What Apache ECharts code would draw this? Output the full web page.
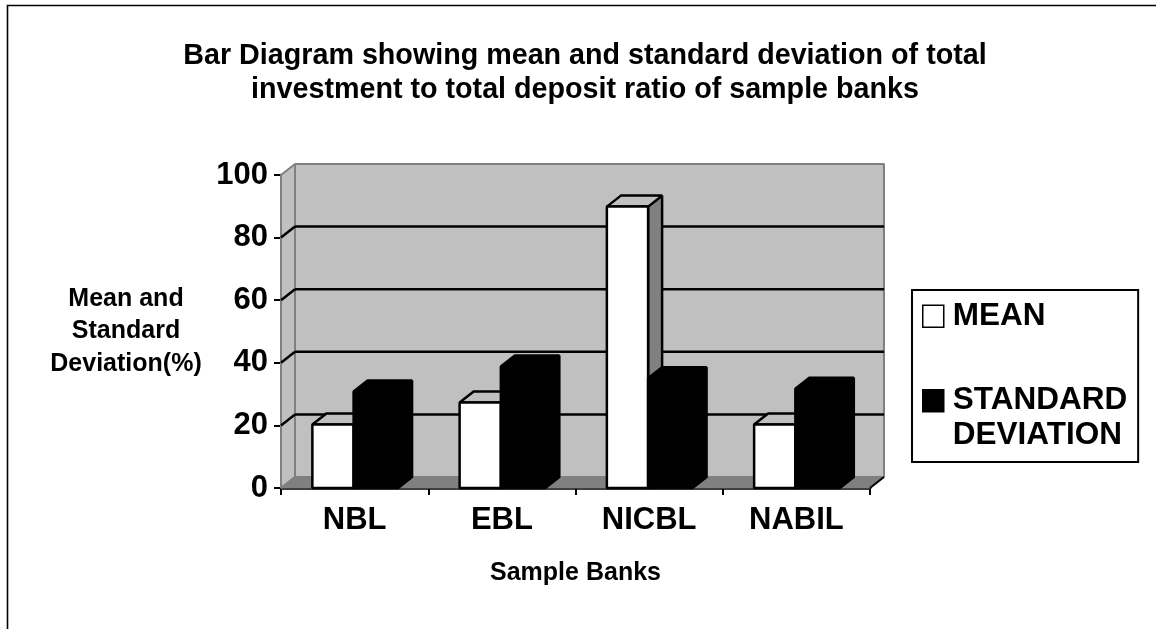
<!DOCTYPE html>
<html><head><meta charset="utf-8">
<style>html,body{margin:0;padding:0;background:#fff}#c{width:1156px;height:629px}</style>
<script src="https://cdn.jsdelivr.net/npm/echarts@6/dist/echarts.min.js"></script>
</head><body><div id="c"></div>
<script>
var categories = ['NBL','EBL','NICBL','NABIL'];
var meanValues = [20.3,27.3,89.9,20.3];
var sdValues = [30.8,38.8,35.1,31.7];
var yTicks = [0,20,40,60,80,100];
var F = '"Liberation Sans", Arial, sans-serif';
var DX = 14, DY = -11;

function poly(pts, fill, stroke, lw){
  return {type:'polygon', shape:{points:pts}, style:{fill:fill, stroke:stroke, lineWidth:lw, lineJoin:'bevel'}};
}
function line(x1,y1,x2,y2,stroke,lw){
  return {type:'line', shape:{x1:x1,y1:y1,x2:x2,y2:y2}, style:{stroke:stroke, lineWidth:lw}};
}
function renderWall(params, api){
  var c = params.coordSys, L=c.x, R=c.x+c.width, B=c.y+c.height, T=c.y;
  var kids = [
    poly([[L+DX,T+DY],[R+DX,T+DY],[R+DX,B+DY],[L+DX,B+DY]],'#c0c0c0','#808080',2),
    poly([[L,T],[L+DX,T+DY],[L+DX,B+DY],[L,B]],'#c0c0c0','#808080',2),
    poly([[L,B],[L+DX,B+DY],[R+DX,B+DY],[R,B]],'#808080','#808080',1)
  ];
  yTicks.forEach(function(v){
    var y = api.coord([0,v])[1];
    if(v>0 && v<100){
      kids.push(line(L,y,L+DX,y+DY,'#000',2.5));
      kids.push(line(L+DX,y+DY,R+DX,y+DY,'#000',2.5));
    }
  });
  kids.push(line(R,B,R+DX,B+DY,'#000',2));
  kids.push(line(L,B,L+DX,B+DY,'#808080',2));
  return {type:'group', children:kids};
}
function barRender(fromFrac,toFrac,top,side){
  return function(params, api){
    var p = api.coord([api.value(0),api.value(1)]);
    var base = api.coord([api.value(0),0]);
    var band = api.size([1,0])[0];
    var x0 = p[0]+band*fromFrac, x1 = p[0]+band*toFrac, y=p[1], b=base[1];
    return {type:'group', children:[
      poly([[x1,y],[x1+DX,y+DY],[x1+DX,b+DY],[x1,b]],side,'#000',2.5),
      poly([[x0,y],[x0+DX,y+DY],[x1+DX,y+DY],[x1,y]],top,'#000',2.5),
      poly([[x0,y],[x1,y],[x1,b],[x0,b]],api.visual('color'),'#000',2.5)
    ]};
  };
}
var legendIcon = 'path://M0 0L0 0ZM0 6.5L21 6.5L21 28.5L0 28.5ZM25 70L25 70Z';
var chart = echarts.init(document.getElementById('c'), null, {renderer:'canvas'});
chart.setOption({
  animation:false,
  backgroundColor:'#fff',
  title:{
    text:'Bar Diagram showing mean and standard deviation of total\ninvestment to total deposit ratio of sample banks',
    left:580, top:34, textAlign:'center',
    textStyle:{fontFamily:F,fontWeight:'bold',fontSize:28.7,lineHeight:34,color:'#000'}
  },
  legend:{
    orient:'vertical', left:912, top:290, padding:[8,11,8,10],
    backgroundColor:'#fff', borderColor:'#000', borderWidth:2, borderRadius:0,
    itemWidth:25, itemHeight:70, itemGap:13, symbolKeepAspect:false,
    textStyle:{fontFamily:F,fontWeight:'bold',fontSize:31.5,lineHeight:35,color:'#000'},
    formatter:function(n){return n==='MEAN'?'MEAN\n ':'STANDARD\nDEVIATION';},
    data:[
      {name:'MEAN',icon:legendIcon,itemStyle:{color:'#fff',borderColor:'#000',borderWidth:1.5}},
      {name:'STANDARD DEVIATION',icon:legendIcon,itemStyle:{color:'#000',borderColor:'#000',borderWidth:1.5}}
    ]
  },
  grid:{left:281,right:286,top:175,bottom:141,containLabel:false},
  xAxis:{
    type:'category', data:categories, name:'Sample Banks', nameLocation:'middle', nameGap:73,
    nameTextStyle:{fontFamily:F,fontWeight:'bold',fontSize:25,color:'#000'},
    axisLine:{lineStyle:{color:'#000',width:2.5}},
    axisTick:{show:true,length:7,alignWithLabel:false,lineStyle:{color:'#000',width:2}},
    axisLabel:{fontFamily:F,fontWeight:'bold',fontSize:31,color:'#000',margin:17}
  },
  yAxis:{
    type:'value', min:0, max:100, interval:20,
    name:'Mean and\nStandard\nDeviation(%)', nameLocation:'middle', nameRotate:0, nameGap:155,
    nameTextStyle:{fontFamily:F,fontWeight:'bold',fontSize:25,lineHeight:32.5,color:'#000',align:'center'},
    axisLine:{show:true,lineStyle:{color:'#000',width:2.5}},
    axisTick:{show:true,length:7,lineStyle:{color:'#000',width:2}},
    splitLine:{show:false},
    axisLabel:{fontFamily:F,fontWeight:'bold',fontSize:31,color:'#000',margin:13}
  },
  graphic:[
    {type:'polyline',silent:true,z:-1,shape:{points:[[7.5,629],[7.5,5.5],[1156,5.5]]},style:{stroke:'#000',fill:null,lineWidth:1.6}}
  ],
  series:[
    {type:'custom',name:'wall',silent:true,z:1,data:[[0,0]],renderItem:renderWall,clip:false,legendHoverLink:false},
    {type:'custom',name:'MEAN',z:2,clip:false,itemStyle:{color:'#fff'},renderItem:barRender(-0.287,-0.007,'#c0c0c0','#808080'),
      encode:{x:0,y:1},data:meanValues.map(function(v,i){return [i,v];})},
    {type:'custom',name:'STANDARD DEVIATION',z:3,clip:false,itemStyle:{color:'#000'},renderItem:barRender(-0.007,0.295,'#000','#000'),
      encode:{x:0,y:1},data:sdValues.map(function(v,i){return [i,v];})}
  ]
});
</script></body></html>
